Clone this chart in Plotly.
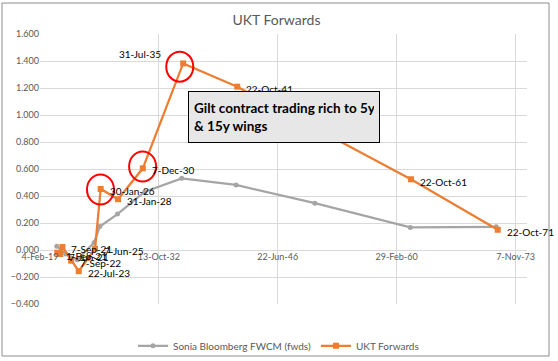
import datetime as dt
import plotly.graph_objects as go

# ---------------- data ----------------
chart_title = "UKT Forwards"
sonia_name = "Sonia Bloomberg FWCM (fwds)"
ukt_name = "UKT Forwards"

ukt_dates = ["2021-02-01", "2021-06-07", "2021-09-07", "2022-09-07", "2023-07-22",
             "2025-06-07", "2026-01-30", "2028-01-31", "2030-12-07", "2035-07-31",
             "2041-10-22", "2061-10-22", "2071-10-22"]
ukt_values = [-0.020, -0.030, 0.022, -0.079, -0.157,
              0.010, 0.452, 0.376, 0.605, 1.382,
              1.210, 0.524, 0.150]

sonia_dates = ["2021-01-10", "2022-01-24", "2023-05-22", "2025-05-01", "2025-12-24",
               "2028-01-06", "2031-03-01", "2035-06-01", "2041-09-03", "2050-09-30",
               "2061-09-26", "2071-08-19"]
sonia_values = [0.028, -0.030, -0.072, 0.056, 0.174,
                0.266, 0.432, 0.531, 0.482, 0.347,
                0.167, 0.172]

# x axis: Excel date axis, major unit 5000 days starting 4-Feb-19
x_start = dt.date(2019, 2, 4)
x_major_days = 5000
x_tick_count = 5
y_min, y_max, y_step = -0.4, 1.6, 0.2

callout_text = "Gilt contract trading rich to 5y<br>& 15y wings"
circled_dates = ["2026-01-30", "2030-12-07", "2035-07-31"]

# ---------------- helpers ----------------
def fmt_date(d):
    return f"{d.day}-{d.strftime('%b')}-{d.strftime('%y')}"

def parse(s):
    return dt.date.fromisoformat(s)

W, H = 558, 361
ML, MR, MT, MB = 40, 31, 34, 57
PW, PH = W - ML - MR, H - MT - MB

def px_x(px):
    return (px - ML) / PW

def px_y(py):
    return (H - MB - py) / PH

tick_dates = [x_start + dt.timedelta(days=x_major_days * k) for k in range(x_tick_count)]
x_end = x_start + dt.timedelta(days=round(x_major_days * 4 * PW / (515.7 - 40.2)))

GREY = "#A5A5A5"
ORANGE = "#ED7D31"
FONT = "Lato"
TXT = "#595959"

fig = go.Figure()
fig.add_trace(go.Scatter(
    x=sonia_dates, y=sonia_values, name=sonia_name, mode="lines+markers",
    line=dict(color=GREY, width=2.25), marker=dict(symbol="circle", size=5, color=GREY),
))
fig.add_trace(go.Scatter(
    x=ukt_dates, y=ukt_values, name=ukt_name, mode="lines+markers",
    line=dict(color=ORANGE, width=2.25), marker=dict(symbol="square", size=6, color=ORANGE),
))

# data labels for the UKT series
annotations = []
for d, v in zip(ukt_dates, ukt_values):
    lab = fmt_date(parse(d))
    if d == "2035-07-31":
        annotations.append(dict(x=d, y=v, text=lab, showarrow=False, xanchor="right",
                                yanchor="middle", xshift=-20, yshift=9,
                                font=dict(family=FONT, size=10, color="black")))
    else:
        ys = -3 if d in ("2021-02-01", "2021-06-07", "2061-10-22") else -2
        annotations.append(dict(x=d, y=v, text=lab, showarrow=False, xanchor="left",
                                yanchor="middle", xshift=7, yshift=ys,
                                font=dict(family=FONT, size=10, color="black")))

# callout box
annotations.append(dict(
    xref="paper", yref="paper", x=px_x(187.7), y=px_y(90.7), xanchor="left", yanchor="top",
    text="<b>" + callout_text + "</b>", showarrow=False, align="left", valign="middle",
    width=180, height=40, borderpad=5, bgcolor="#E7E7E7", bordercolor="black", borderwidth=1,
    font=dict(family=FONT, size=13.5, color="black"),
))

shapes = []
# red circles around selected points
circle_offsets = {"2026-01-30": (-0.2, 0.5), "2030-12-07": (-0.2, -1.8), "2035-07-31": (-3.4, 3.2)}
for d in circled_dates:
    v = ukt_values[ukt_dates.index(d)]
    dx, dy = circle_offsets[d]
    shapes.append(dict(type="circle", xref="x", yref="y", xsizemode="pixel", ysizemode="pixel",
                       xanchor=d, yanchor=v, x0=dx - 13.5, x1=dx + 13.5,
                       y0=-dy - 15, y1=-dy + 15, line=dict(color="#FF0000", width=2)))
# chart border
shapes.append(dict(type="rect", xref="paper", yref="paper", x0=px_x(2), x1=px_x(549),
                   y0=px_y(356), y1=px_y(3), line=dict(color="#8C8C8C", width=1), layer="below"))

fig.update_layout(
    width=W, height=H, margin=dict(l=ML, r=MR, t=MT, b=MB, autoexpand=False),
    paper_bgcolor="white", plot_bgcolor="white",
    title=dict(text=chart_title, x=276.5 / W, xanchor="center", y=1 - 20 / H, yanchor="middle",
               yref="container", xref="container",
               font=dict(family=FONT, size=14, color=TXT)),
    xaxis=dict(type="date", range=[x_start.isoformat(), x_end.isoformat()],
               tickmode="array", tickvals=[t.isoformat() for t in tick_dates],
               ticktext=[fmt_date(t) for t in tick_dates],
               showgrid=True, gridcolor="#D9D9D9", gridwidth=1, zeroline=False, showline=False,
               anchor="free", position=(0 - y_min) / (y_max - y_min), automargin=False,
               ticks="", tickfont=dict(family=FONT, size=9, color=TXT)),
    yaxis=dict(range=[y_min, y_max], dtick=y_step, tick0=0, tickformat=".3f",
               showgrid=True, gridcolor="#D9D9D9", gridwidth=1, zeroline=False, showline=False,
               automargin=False,
               ticks="", tickfont=dict(family=FONT, size=9, color=TXT)),
    legend=dict(orientation="h", xref="container", yref="container",
                x=278.5 / W, xanchor="center", y=1 - 345.8 / H, yanchor="middle",
                itemwidth=30, tracegroupgap=0,
                font=dict(family=FONT, size=10, color=TXT), bgcolor="rgba(0,0,0,0)"),
    annotations=annotations, shapes=shapes,
)

fig.write_html("out.html", config={"displayModeBar": False, "staticPlot": True},
               post_script="document.body.style.margin='0';document.body.style.overflow='hidden';")
